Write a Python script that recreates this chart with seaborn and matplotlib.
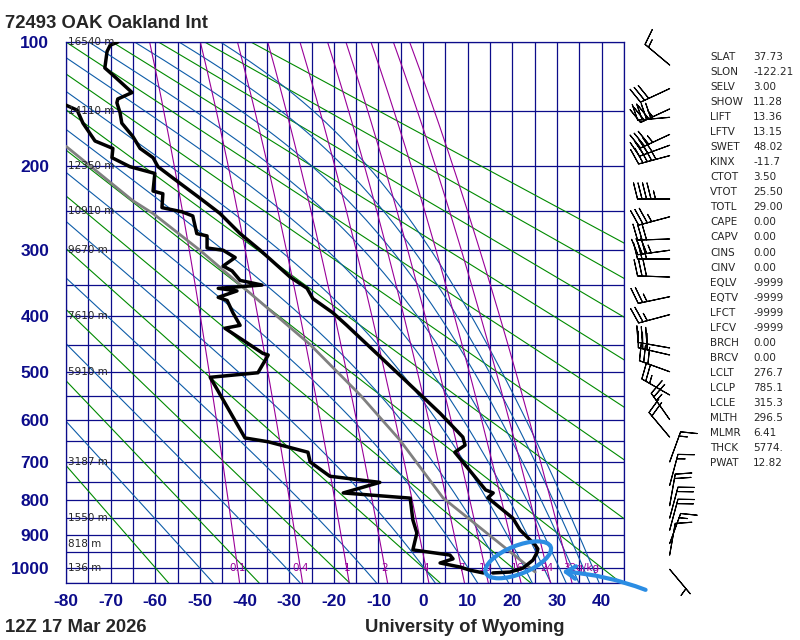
import numpy as np
import matplotlib
matplotlib.use("Agg")
import matplotlib.pyplot as plt
import seaborn as sns
from matplotlib.patches import Ellipse
from matplotlib.ticker import NullLocator
from matplotlib.transforms import IdentityTransform

# 72493 OAK Oakland Int, 12Z 17 Mar 2026
temp_p = [100, 102, 106, 117, 122, 135, 140, 143, 151, 160, 172, 183, 192, 201, 213,
          235, 253, 278, 300, 338, 355, 371, 394, 415, 437, 507, 586, 640, 659, 676,
          772, 780, 793, 850, 884, 929, 941, 953, 976, 1001, 1014, 1017]
temp_t = [-68.4, -70.1, -70.8, -71.3, -69.5, -65.2, -68.4, -68.6, -67.9, -67.5, -65.0, -63.4, -60.5, -59.4, -56.0,
          -50.0, -45.5, -41.0, -36.5, -29.8, -26.0, -24.7, -20.2, -17.1, -14.1, -5.2, 3.8, 8.9, 9.4, 7.1,
          14.0, 15.7, 14.5, 20.1, 21.7, 25.1, 25.7, 25.5, 24.6, 22.4, 19.5, 15.6]

dwpt_p = [141, 149, 160, 176, 183, 192, 201, 208, 227, 230, 246, 251, 256, 278, 281,
          297, 300, 310, 322, 329, 343, 350, 355, 359, 369, 374, 394, 415, 420, 465,
          468, 502, 511, 642, 651, 676, 700, 736, 752, 780, 794, 855, 893, 944, 960,
          972, 985, 998, 1008, 1017]
dwpt_t = [-82.5, -77.5, -76.2, -73.5, -69.5, -69.7, -65.7, -60.1, -60.5, -58.3, -58.5, -54.0, -51.6, -50.7, -48.4,
          -48.4, -44.8, -42.1, -44.8, -42.8, -41.0, -36.1, -45.9, -41.7, -45.9, -43.9, -42.6, -41.0, -44.4, -35.9,
          -34.7, -37.0, -47.7, -39.9, -34.7, -25.8, -25.3, -20.9, -9.7, -17.9, -2.9, -2.3, -1.4, -2.3, 6.0,
          6.7, 3.8, 8.3, 10.5, 13.5]

# lifted parcel (gray)
parcel_p = [181, 238, 253, 300, 449, 547, 647, 794, 950, 1014]
parcel_t = [-80.0, -65.0, -60.5, -50.0, -25.3, -14.1, -5.2, 4.5, 19.5, 25.1]

hght_p = [100, 150, 200, 250, 300, 400, 500, 700, 850, 925, 1000]
hght_lbl = ["16540 m", "14110 m", "12350 m", "10910 m", "9670 m", "7610 m",
            "5910 m", "3187 m", "1550 m", "818 m", "136 m"]

wind_p = [115, 132, 148, 155, 170, 180, 190, 236, 257, 285, 300, 312, 338, 368, 397,
          455, 468, 500, 547, 600, 640, 700, 760, 815, 850, 885, 925, 960, 1005]
wind_dir = [310, 245, 245, 265, 245, 250, 255, 270, 255, 268, 262, 270, 272, 258, 255,
            280, 283, 290, 300, 325, 320, 20, 15, 10, 15, 15, 20, 10, 140]
wind_kt = [15, 30, 35, 40, 35, 40, 45, 45, 35, 30, 35, 30, 30, 25, 25,
           30, 30, 30, 25, 25, 20, 15, 15, 20, 20, 20, 15, 10, 5]

# background lines
theta_c = [-60, -40, -20, 0, 20, 40, 60, 80, 100, 120, 140, 160, 180]   # dry adiabats
thetae_c = [-50, -30, -10, 10, 30, 50, 70, 90, 110, 130, 150, 170]      # moist adiabats
mixr_gkg = [0.1, 0.4, 1, 2, 4, 7, 10, 16, 24, 32]

stat_names = ["SLAT", "SLON", "SELV", "SHOW", "LIFT", "LFTV", "SWET", "KINX", "CTOT", "VTOT",
              "TOTL", "CAPE", "CAPV", "CINS", "CINV", "EQLV", "EQTV", "LFCT", "LFCV", "BRCH",
              "BRCV", "LCLT", "LCLP", "LCLE", "MLTH", "MLMR", "THCK", "PWAT"]
stat_vals = ["37.73", "-122.21", "3.00", "11.28", "13.36", "13.15", "48.02", "-11.7", "3.50", "25.50",
             "29.00", "0.00", "0.00", "0.00", "0.00", "-9999", "-9999", "-9999", "-9999", "0.00",
             "0.00", "276.7", "785.1", "315.3", "296.5", "6.41", "5774.", "12.82"]

sns.set_style("white")
plt.rcParams["font.family"] = ["Liberation Sans", "DejaVu Sans"]

KAP = 0.286
NAVY = "#0c0c8a"
GREEN = "#008a00"
BLUE = "#0d5ca8"
PURPLE = "#990099"
MARK = "#2b8de3"


def fwd(p):
    return np.power(np.clip(p, 1e-6, None), KAP)


def inv(q):
    return np.power(np.clip(q, 1e-6, None), 1.0 / KAP)


def sat_mixr(t_c, p):
    es = 6.112 * np.exp(17.67 * t_c / (t_c + 243.5))
    return np.where(es < 0.5 * p, 0.622 * es / (p - es), 1.0)


def moist_t(thetae_k, p):
    # bisection for the saturated temperature with the given theta-e
    lo = np.full_like(p, -130.0)
    hi = np.full_like(p, 60.0)
    for _ in range(45):
        mid = 0.5 * (lo + hi)
        tk = mid + 273.15
        th = tk * (1000.0 / p) ** KAP * np.exp(2.5e6 * sat_mixr(mid, p) / (1005.0 * tk))
        warm = th > thetae_k
        hi = np.where(warm, mid, hi)
        lo = np.where(warm, lo, mid)
    return 0.5 * (lo + hi)


def dewpt(e):
    a = np.log(e / 6.112)
    return 243.5 * a / (17.67 - a)


fig = plt.figure(figsize=(8, 6.4), dpi=100)
ax = fig.add_axes([66 / 800, 57 / 640, 558 / 800, 541 / 640])
ax.set_yscale("function", functions=(fwd, inv))
ax.set_xlim(-80, 45)
ax.set_ylim(1050, 100)

for t in np.arange(-80, 46, 5):
    ax.axvline(t, color=NAVY, lw=0.9, zorder=1)
for p in np.arange(100, 1051, 50):
    ax.axhline(p, color=NAVY, lw=0.9, zorder=1)

pp = np.linspace(100, 1050, 160)
for th in theta_c:
    ax.plot((th + 273.15) * (pp / 1000.0) ** KAP - 273.15, pp, color=GREEN, lw=0.8, zorder=2)
for te in thetae_c:
    ax.plot(moist_t(te + 273.15, pp), pp, color=BLUE, lw=0.8, zorder=2)
for w in mixr_gkg:
    ax.plot(dewpt(w * pp / (622.0 + w)), pp, color=PURPLE, lw=0.8, zorder=2)
    td0 = dewpt(w * 1000.0 / (622.0 + w))
    if w == mixr_gkg[-1]:
        ax.text(td0 - 1.2, 1000, f"{w:g}g/kg", color=PURPLE, fontsize=7.5, family="DejaVu Sans",
                ha="left", va="center", zorder=3)
    else:
        ax.text(td0, 1000, f"{w:g}", color=PURPLE, fontsize=7.5, family="DejaVu Sans",
                ha="center", va="center", zorder=3)

sns.lineplot(x=parcel_t, y=parcel_p, sort=False, estimator=None, color="#808080", lw=2.0, ax=ax, zorder=4)
sns.lineplot(x=dwpt_t, y=dwpt_p, sort=False, estimator=None, color="black", lw=2.5, ax=ax, zorder=5)
sns.lineplot(x=temp_t, y=temp_p, sort=False, estimator=None, color="black", lw=2.5, ax=ax, zorder=5)

for p, s in zip(hght_p, hght_lbl):
    ax.text(0.004, p, s, transform=ax.get_yaxis_transform(), fontsize=7.5, family="DejaVu Sans",
            ha="left", va="center", zorder=6)

ax.set_xticks(list(range(-80, 41, 10)))
ax.set_xticklabels([str(v) for v in range(-80, 41, 10)])
ax.set_yticks(list(range(100, 1001, 100)))
ax.set_yticklabels([str(v) for v in range(100, 1001, 100)])
ax.xaxis.set_minor_locator(NullLocator())
ax.yaxis.set_minor_locator(NullLocator())
ax.tick_params(axis="both", length=0, labelsize=12.5, labelcolor=NAVY)
ax.tick_params(axis="x", pad=8)
ax.tick_params(axis="y", pad=12)
for lbl in ax.get_xticklabels() + ax.get_yticklabels():
    lbl.set_fontweight("bold")
ax.set_xlabel("")
ax.set_ylabel("")
for sp in ax.spines.values():
    sp.set_color(NAVY)
    sp.set_linewidth(0.9)

# wind barbs column
bx = fig.add_axes([625 / 800, 57 / 640, 95 / 800, 541 / 640])
bx.set_yscale("function", functions=(fwd, inv))
bx.set_ylim(1050, 100)
bx.set_xlim(0, 1)
bx.axis("off")
rad = np.deg2rad(wind_dir)
u = -np.array(wind_kt) * np.sin(rad)
v = -np.array(wind_kt) * np.cos(rad)
bx.barbs(np.full(len(wind_p), 0.47), wind_p, u, v, length=6.8, linewidth=0.8, color="black",
         sizes=dict(height=0.5, spacing=0.14), clip_on=False)

# stats table
for i, (n, s) in enumerate(zip(stat_names, stat_vals)):
    y = 1 - (57 + 15.04 * i) / 640
    fig.text(710 / 800, y, n, fontsize=7.5, family="DejaVu Sans", va="center", ha="left")
    fig.text(753 / 800, y, s, fontsize=7.5, family="DejaVu Sans", va="center", ha="left")

fig.text(5 / 800, 1 - 23 / 640, "72493 OAK Oakland Int", fontsize=13.3, fontweight="bold", va="center")
fig.text(5 / 800, 1 - 627 / 640, "12Z 17 Mar 2026", fontsize=13.3, fontweight="bold", va="center")
fig.text(465 / 800, 1 - 627 / 640, "University of Wyoming", fontsize=13.3, fontweight="bold",
         va="center", ha="center")

# hand-drawn highlight around the surface layer
cx, cy = ax.transData.transform((21.3, 975))
ax.add_patch(Ellipse((cx, cy), 70, 28, angle=22, transform=IdentityTransform(), fill=False,
                     lw=3, color=MARK, clip_on=False, zorder=7))
ax.annotate("", xy=(30.5, 1012), xytext=(64, -14), textcoords="offset points", annotation_clip=False,
            arrowprops=dict(arrowstyle="->,head_length=0.7,head_width=0.45", lw=3, color=MARK,
                            connectionstyle="arc3,rad=0.08"), zorder=7)

fig.savefig("out.png", dpi=100)
